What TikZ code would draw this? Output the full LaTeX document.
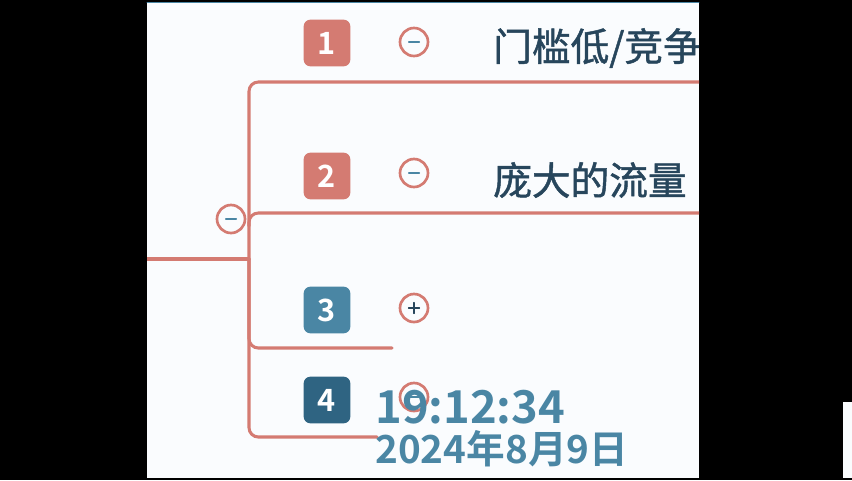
\documentclass[tikz,border=0pt]{standalone}
\usepackage{fontspec}
\newfontfamily\cjk[FakeBold=1.2]{Noto Sans CJK SC}
\newfontfamily\cjkbold{Noto Sans CJK SC Bold}
\usetikzlibrary{positioning}

\definecolor{panel}{HTML}{FAFCFE}
\definecolor{salmon}{HTML}{D47B72}
\definecolor{steel}{HTML}{4A86A4}
\definecolor{deepsteel}{HTML}{2F6482}
\definecolor{inkblue}{HTML}{27465C}

\begin{document}
\begin{tikzpicture}[x=0.75pt,y=-0.75pt,line cap=round,
                    branch/.style={draw=salmon,line width=2.3pt,rounded corners=7pt},
                    badge/.style={rounded corners=5pt,minimum size=35pt,inner sep=0pt,
                                  text=white,font=\cjkbold\fontsize{23}{23}\selectfont},
                    toggle/.style={circle,draw=salmon,line width=2pt,fill=panel,
                                   minimum size=21pt,inner sep=0pt},
                    topic/.style={anchor=west,inner sep=0pt,text=inkblue,
                                  font=\cjk\fontsize{29}{29}\selectfont},
                    stamp/.style={anchor=west,inner sep=0pt,text=steel}]
    \useasboundingbox (0,0) rectangle (852,480);
    \fill[black] (0,0) rectangle (852,480);
    \fill[panel] (147,2) rectangle (699,478);
    \draw[steel,line width=0.6pt] (147,2) -- (699,2);
    \fill[panel] (843,402) rectangle (852,478);

    \begin{scope}
        \clip (147,2) rectangle (699,478);

        % connectors
        \coordinate (root) at (147,259);
        \coordinate (hub) at (249,259);
        \coordinate (end1) at (699,82);
        \coordinate (end2) at (699,213);
        \coordinate (end3) at (392,348);
        \coordinate (end4) at (377,437);
        \draw[branch] (root) -- (hub);
        \draw[branch] (hub) |- (end1);
        \draw[branch] (249,226) |- (end2);
        \draw[branch] (hub) |- (end3);
        \draw[branch] (hub) |- (end4);

        \node[toggle] (rootToggle) at (231,219) {};
        \draw[steel,line width=1pt] ([xshift=-4pt]rootToggle.center) -- ([xshift=4pt]rootToggle.center);

        % numbered topics
        \node[badge,fill=salmon] (b1) at (327,43) {1};
        \node[badge,fill=salmon] (b2) at (327,176) {2};
        \node[badge,fill=steel] (b3) at (327,310) {3};
        \node[badge,fill=deepsteel] (b4) at (327,400) {4};

        \node[toggle] (t1) at (414,42) {};
        \node[toggle] (t2) at (414,173) {};
        \node[toggle] (t3) at (414,308) {};
        \node[toggle] (t4) at (414,397) {};
        \foreach \t in {t1,t2,t4}
            \draw[steel,line width=1pt] ([xshift=-4pt]\t.center) -- ([xshift=4pt]\t.center);
        \draw[inkblue,line width=1.3pt] ([xshift=-4pt]t3.center) -- ([xshift=4pt]t3.center)
                                        ([yshift=-4pt]t3.center) -- ([yshift=4pt]t3.center);

        \node[topic] (topic1) at (493,48) {门槛低/竞争小};
        \node[topic] (topic2) at (493,180) {庞大的流量};

        % time stamp
        \node[stamp,font=\cjkbold\fontsize{34}{34}\selectfont] (clock) at (375,407) {19:12:34};
        \node[stamp,font=\cjkbold\fontsize{29}{29}\selectfont] (date) at (375,449) {2024年8月9日};
    \end{scope}
\end{tikzpicture}
\end{document}
